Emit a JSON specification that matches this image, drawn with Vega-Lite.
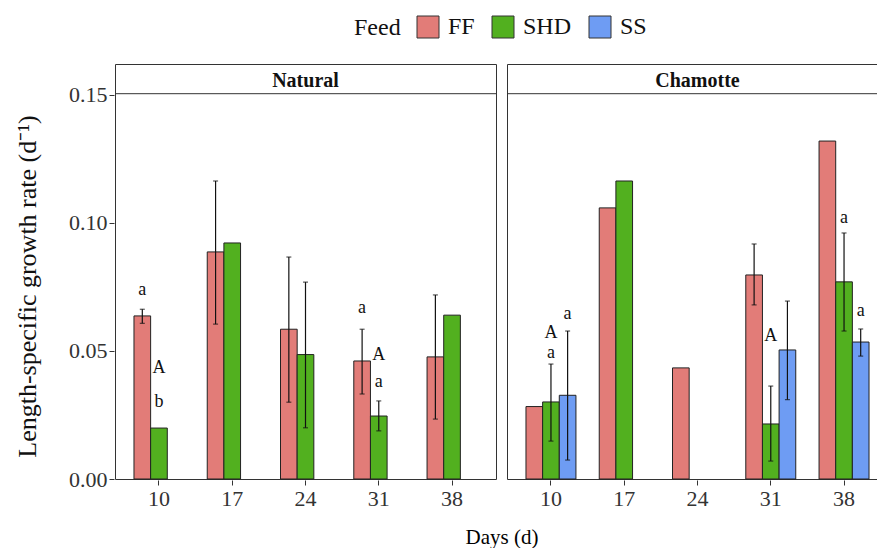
{
  "$schema": "https://vega.github.io/schema/vega-lite/v6.json",
  "background": "white",
  "padding": {"left": 14, "top": 15, "right": 0, "bottom": 0},
  "data": {
    "values": [
      {"Substrate": "Natural", "Day": 10, "Feed": "FF", "mean": 0.0637, "lo": 0.0608, "hi": 0.0663},
      {"Substrate": "Natural", "Day": 10, "Feed": "SHD", "mean": 0.0199, "lo": null, "hi": null},
      {"Substrate": "Natural", "Day": 17, "Feed": "FF", "mean": 0.0887, "lo": 0.0605, "hi": 0.1164},
      {"Substrate": "Natural", "Day": 17, "Feed": "SHD", "mean": 0.0922, "lo": null, "hi": null},
      {"Substrate": "Natural", "Day": 24, "Feed": "FF", "mean": 0.0585, "lo": 0.0300, "hi": 0.0867},
      {"Substrate": "Natural", "Day": 24, "Feed": "SHD", "mean": 0.0486, "lo": 0.0200, "hi": 0.0769},
      {"Substrate": "Natural", "Day": 31, "Feed": "FF", "mean": 0.0461, "lo": 0.0332, "hi": 0.0585},
      {"Substrate": "Natural", "Day": 31, "Feed": "SHD", "mean": 0.0246, "lo": 0.0188, "hi": 0.0305},
      {"Substrate": "Natural", "Day": 38, "Feed": "FF", "mean": 0.0477, "lo": 0.0234, "hi": 0.0719},
      {"Substrate": "Natural", "Day": 38, "Feed": "SHD", "mean": 0.0640, "lo": null, "hi": null},
      {"Substrate": "Chamotte", "Day": 10, "Feed": "FF", "mean": 0.0283, "lo": null, "hi": null},
      {"Substrate": "Chamotte", "Day": 10, "Feed": "SHD", "mean": 0.0301, "lo": 0.0148, "hi": 0.0449},
      {"Substrate": "Chamotte", "Day": 10, "Feed": "SS", "mean": 0.0327, "lo": 0.0074, "hi": 0.0578},
      {"Substrate": "Chamotte", "Day": 17, "Feed": "FF", "mean": 0.1059, "lo": null, "hi": null},
      {"Substrate": "Chamotte", "Day": 17, "Feed": "SHD", "mean": 0.1164, "lo": null, "hi": null},
      {"Substrate": "Chamotte", "Day": 24, "Feed": "FF", "mean": 0.0434, "lo": null, "hi": null},
      {"Substrate": "Chamotte", "Day": 31, "Feed": "FF", "mean": 0.0797, "lo": 0.0680, "hi": 0.0918},
      {"Substrate": "Chamotte", "Day": 31, "Feed": "SHD", "mean": 0.0215, "lo": 0.0070, "hi": 0.0363},
      {"Substrate": "Chamotte", "Day": 31, "Feed": "SS", "mean": 0.0504, "lo": 0.0310, "hi": 0.0695},
      {"Substrate": "Chamotte", "Day": 38, "Feed": "FF", "mean": 0.1320, "lo": null, "hi": null},
      {"Substrate": "Chamotte", "Day": 38, "Feed": "SHD", "mean": 0.0770, "lo": 0.0578, "hi": 0.0961},
      {"Substrate": "Chamotte", "Day": 38, "Feed": "SS", "mean": 0.0535, "lo": 0.0480, "hi": 0.0586},
      {"Substrate": "Natural", "Day": 10, "Feed": "FF", "label": "a", "ly": 0.0740},
      {"Substrate": "Natural", "Day": 10, "Feed": "SHD", "label": "A", "ly": 0.0434},
      {"Substrate": "Natural", "Day": 10, "Feed": "SHD", "label": "b", "ly": 0.0301},
      {"Substrate": "Natural", "Day": 31, "Feed": "FF", "label": "a", "ly": 0.0666},
      {"Substrate": "Natural", "Day": 31, "Feed": "SHD", "label": "A", "ly": 0.0484},
      {"Substrate": "Natural", "Day": 31, "Feed": "SHD", "label": "a", "ly": 0.0377},
      {"Substrate": "Chamotte", "Day": 10, "Feed": "SHD", "label": "A", "ly": 0.0572},
      {"Substrate": "Chamotte", "Day": 10, "Feed": "SHD", "label": "a", "ly": 0.0494},
      {"Substrate": "Chamotte", "Day": 10, "Feed": "SS", "label": "a", "ly": 0.0646},
      {"Substrate": "Chamotte", "Day": 31, "Feed": "SHD", "label": "A", "ly": 0.0559},
      {"Substrate": "Chamotte", "Day": 38, "Feed": "SHD", "label": "a", "ly": 0.1021},
      {"Substrate": "Chamotte", "Day": 38, "Feed": "SS", "label": "a", "ly": 0.0658}
    ]
  },
  "facet": {
    "column": {
      "field": "Substrate",
      "type": "nominal",
      "sort": ["Natural", "Chamotte"],
      "title": "Days (d)",
      "header": {
        "labelOrient": "top",
        "labelFont": "Liberation Serif",
        "labelFontSize": 20,
        "labelFontWeight": "bold",
        "labelColor": "#111111",
        "labelPadding": -28,
        "titleOrient": "bottom",
        "titleFont": "Liberation Serif",
        "titleFontSize": 21,
        "titleFontWeight": "normal",
        "titleColor": "#000000",
        "titlePadding": 8
      }
    }
  },
  "spacing": 9,
  "spec": {
    "width": 381,
    "height": 415,
    "encoding": {
      "x": {
        "field": "Day",
        "type": "ordinal",
        "scale": {"paddingInner": 0.318, "paddingOuter": 0.259},
        "axis": {"title": null, "labelAngle": 0, "labelFontSize": 22, "tickSize": 5, "domain": false, "labelPadding": 3}
      },
      "xOffset": {"field": "Feed", "type": "nominal", "scale": {"domain": ["FF", "SHD", "SS"], "paddingInner": 0, "paddingOuter": 0}}
    },
    "layer": [
      {
        "transform": [{"filter": "isValid(datum.mean)"}],
        "mark": {"type": "bar", "stroke": "#222222", "strokeWidth": 1},
        "encoding": {
          "y": {
            "field": "mean",
            "type": "quantitative",
            "title": "Length-specific growth rate (d⁻¹)",
            "scale": {"domain": [0, 0.1621], "nice": false},
            "axis": {"values": [0, 0.05, 0.1, 0.15], "format": ".2f", "grid": false, "domain": false, "tickSize": 5, "labelFontSize": 22, "titleFontSize": 26, "titlePadding": 28, "titleY": 222}
          },
          "color": {
            "field": "Feed",
            "type": "nominal",
            "scale": {"domain": ["FF", "SHD", "SS"], "range": ["#E27C78", "#52B01F", "#6E9CF3"]},
            "legend": {
              "title": "Feed",
              "orient": "none",
              "legendX": 239,
              "legendY": -49,
              "direction": "horizontal",
              "titleOrient": "left",
              "titlePadding": 15,
              "columnPadding": 15,
              "labelOffset": 8,
              "symbolType": "square",
              "symbolSize": 484,
              "symbolStrokeColor": "#333333",
              "symbolStrokeWidth": 1,
              "symbolFillOpacity": 1,
              "labelFont": "Liberation Serif",
              "labelFontSize": 24,
              "labelColor": "#111111",
              "titleFont": "Liberation Serif",
              "titleFontSize": 24,
              "titleFontWeight": "normal",
              "titleColor": "#111111"
            }
          }
        }
      },
      {
        "transform": [{"filter": "isValid(datum.hi)"}],
        "mark": {"type": "rule", "color": "#111111", "strokeWidth": 1.2},
        "encoding": {
          "y": {"field": "lo", "type": "quantitative", "title": "Length-specific growth rate (d⁻¹)"},
          "y2": {"field": "hi"}
        }
      },
      {
        "transform": [{"filter": "isValid(datum.hi)"}],
        "mark": {"type": "tick", "color": "#111111", "size": 5, "thickness": 1.2, "orient": "horizontal"},
        "encoding": {
          "y": {"field": "hi", "type": "quantitative", "title": "Length-specific growth rate (d⁻¹)"}
        }
      },
      {
        "transform": [{"filter": "isValid(datum.hi)"}],
        "mark": {"type": "tick", "color": "#111111", "size": 5, "thickness": 1.2, "orient": "horizontal"},
        "encoding": {
          "y": {"field": "lo", "type": "quantitative", "title": "Length-specific growth rate (d⁻¹)"}
        }
      },
      {
        "transform": [{"filter": "isValid(datum.label)"}],
        "mark": {"type": "text", "font": "Liberation Serif", "fontSize": 18, "color": "#111111", "baseline": "middle"},
        "encoding": {
          "y": {"field": "ly", "type": "quantitative", "title": "Length-specific growth rate (d⁻¹)"},
          "text": {"field": "label"}
        }
      },
      {
        "transform": [{"filter": "datum.Day == 10 && datum.Feed == 'FF' && isValid(datum.mean)"}],
        "mark": {"type": "rule", "color": "#333333", "strokeWidth": 1},
        "encoding": {
          "y": {"datum": 0.1505},
          "x": null,
          "xOffset": null
        }
      }
    ]
  },
  "config": {
    "view": {"stroke": "#333333", "strokeWidth": 1},
    "axis": {"labelFont": "Liberation Serif", "titleFont": "Liberation Serif", "labelColor": "#333333", "tickColor": "#333333", "titleColor": "#111111", "titleFontWeight": "normal"}
  }
}
